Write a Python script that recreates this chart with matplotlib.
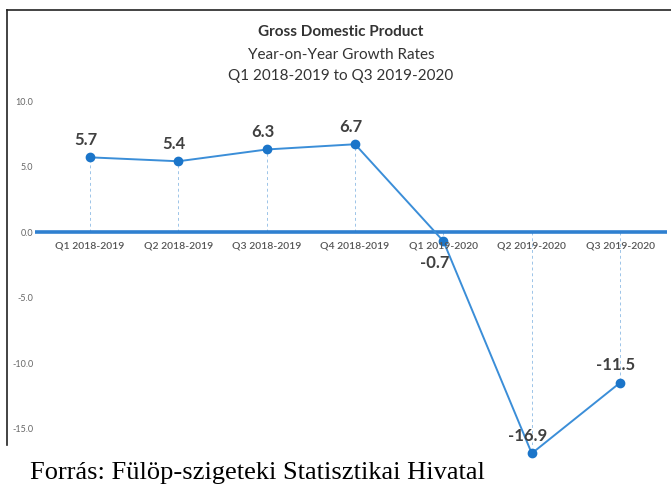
import matplotlib
matplotlib.use("Agg")
import matplotlib.pyplot as plt
from matplotlib.lines import Line2D

# data
quarters = ["Q1 2018-2019", "Q2 2018-2019", "Q3 2018-2019", "Q4 2018-2019",
            "Q1 2019-2020", "Q2 2019-2020", "Q3 2019-2020"]
growth = [5.7, 5.4, 6.3, 6.7, -0.7, -16.9, -11.5]
yticks = [10.0, 5.0, 0.0, -5.0, -10.0, -15.0]

sans = ["Lato", "DejaVu Sans"]
blue = "#3b8ed8"

fig = plt.figure(figsize=(6.71, 4.97), dpi=100)
ax = fig.add_axes([0.052, 0.1046, 0.942, 0.7143])

x = list(range(len(quarters)))

# drop lines from points to zero
ax.vlines(x, 0, growth, colors="#9cc4e8", linestyles=(0, (3, 3)), linewidth=0.7, zorder=1)
ax.axhline(0, color="#2f80d0", linewidth=2.6, zorder=2)
ax.plot(x, growth, color=blue, linewidth=1.4, marker="o", markersize=6,
        markerfacecolor="#1b75c9", markeredgecolor="#1b75c9", zorder=3, clip_on=False)

# data labels
for i, v in enumerate(growth):
    if v == -0.7:
        ax.annotate(f"{v:.1f}", (i, v), xytext=(-6, -10), textcoords="offset points",
                    ha="center", va="top", fontsize=12, fontweight="bold",
                    color="#404040", family=sans)
    else:
        ax.annotate(f"{v:.1f}", (i, v), xytext=(-3, 7), textcoords="offset points",
                    ha="center", va="bottom", fontsize=12, fontweight="bold",
                    color="#404040", family=sans, annotation_clip=False)

# category labels just below zero line
for i, q in enumerate(quarters):
    ax.annotate(q, (i, 0), xytext=(0, -10), textcoords="offset points",
                ha="center", va="center", fontsize=7.5, fontweight="semibold",
                color="#555555", family=sans)

ax.set_xlim(-0.623, 6.53)
ax.set_ylim(-16.26, 10.84)
ax.set_yticks(yticks)
ax.set_yticklabels([f"{t:.1f}" for t in yticks], fontsize=6.5, color="#666666", family=sans)
ax.tick_params(axis="y", length=0, pad=1)
ax.set_xticks([])
for s in ax.spines.values():
    s.set_visible(False)

# titles
fig.text(0.508, 1 - 32 / 497, "Gross Domestic Product", ha="center", va="center",
         fontsize=11, fontweight="bold", color="#333333", family=sans)
fig.text(0.508, 1 - 55 / 497, "Year-on-Year Growth Rates", ha="center", va="center",
         fontsize=11, color="#333333", family=sans)
fig.text(0.508, 1 - 76 / 497, "Q1 2018-2019 to Q3 2019-2020", ha="center", va="center",
         fontsize=11, color="#333333", family=sans)

# frame of the screenshot
fig.add_artist(Line2D([7 / 671, 7 / 671], [1 - 445 / 497, 1 - 10 / 497], color="#222222", linewidth=1.2))
fig.add_artist(Line2D([7 / 671, 1], [1 - 10 / 497, 1 - 10 / 497], color="#222222", linewidth=1.2))

fig.text(30 / 671, 1 - 473 / 497, "Forrás: Fülöp-szigeteki Statisztikai Hivatal",
         ha="left", va="center", fontsize=19, color="black", family="Liberation Serif")

fig.savefig("out.png", dpi=100)
